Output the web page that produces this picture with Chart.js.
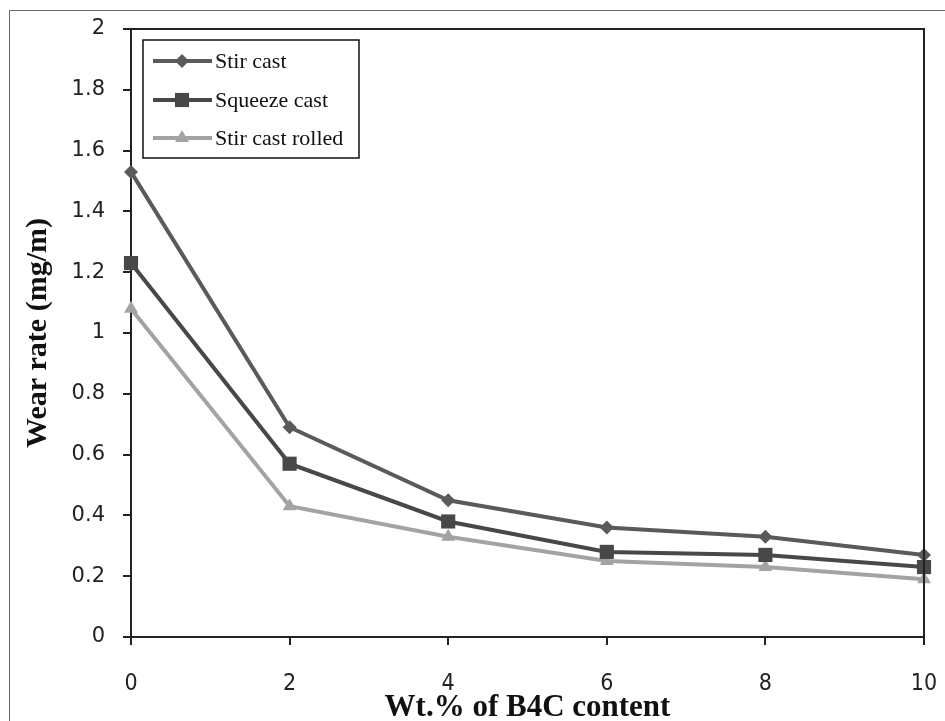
<!DOCTYPE html>
<html>
<head>
<meta charset="utf-8">
<script src="https://cdn.jsdelivr.net/npm/chart.js@4/dist/chart.umd.min.js"></script>
<style>
  html, body { margin: 0; padding: 0; background: #fff; }
  #wrap { width: 945px; height: 721px; position: relative; }
</style>
</head>
<body>
<div id="wrap"><canvas id="wearChart" width="945" height="721"></canvas></div>
<script>
// ==== data ====
const wtPercent   = [0, 2, 4, 6, 8, 10];
const stirCast    = [1.53, 0.69, 0.45, 0.36, 0.33, 0.27];
const squeezeCast = [1.23, 0.57, 0.38, 0.28, 0.27, 0.23];
const stirRolled  = [1.08, 0.43, 0.33, 0.25, 0.23, 0.19];
const seriesNames = ["Stir cast", "Squeeze cast", "Stir cast rolled"];

const toPoints = (arr) => arr.map((v, i) => ({ x: wtPercent[i], y: v }));

const tickFont = { family: "'DejaVu Sans', sans-serif", size: 21 };
const titleFont = { family: "'Liberation Serif', 'Times New Roman', serif", size: 30, weight: "bold", lineHeight: 1 };

// outer frame + top/right edges of the plot box
const framePlugin = {
  id: "frame",
  beforeDraw(chart) {
    const c = chart.ctx;
    c.save();
    c.strokeStyle = "#666";
    c.lineWidth = 1;
    c.beginPath();
    c.moveTo(9.5, 721);
    c.lineTo(9.5, 10.5);
    c.lineTo(945, 10.5);
    c.stroke();
    c.restore();
  },
  afterDatasetsDraw(chart) {
    const { left, right, top, bottom } = chart.chartArea;
    const c = chart.ctx;
    c.save();
    c.strokeStyle = "#222";
    c.lineWidth = 2;
    c.beginPath();
    c.moveTo(left, top);
    c.lineTo(right, top);
    c.lineTo(right, bottom + 8);
    c.stroke();
    c.restore();
  }
};

// legend box inside the plot, top-left
const boxLegend = {
  id: "boxLegend",
  afterDraw(chart) {
    const c = chart.ctx;
    const x0 = 143, y0 = 40, w = 216, h = 118;
    c.save();
    c.fillStyle = "#fff";
    c.fillRect(x0, y0, w, h);
    c.strokeStyle = "#111";
    c.lineWidth = 1.5;
    c.strokeRect(x0, y0, w, h);
    c.font = "22px 'Liberation Serif', serif";
    c.textBaseline = "middle";
    const rows = [61, 100, 138];
    chart.data.datasets.forEach((ds, i) => {
      const y = rows[i];
      c.strokeStyle = ds.borderColor;
      c.lineWidth = ds.borderWidth;
      c.beginPath();
      c.moveTo(153, y);
      c.lineTo(212, y);
      c.stroke();
      c.fillStyle = ds.pointBackgroundColor;
      Chart.helpers.drawPoint(c, {
        pointStyle: ds.pointStyle, rotation: 0,
        radius: ds.pointRadius, borderWidth: 0
      }, 182, y);
      c.fillStyle = "#111";
      c.fillText(ds.label, 215, y + 1);
    });
    c.restore();
  }
};

const mkSet = (label, data, color, style, r) => ({
  label,
  data: toPoints(data),
  borderColor: color,
  backgroundColor: color,
  pointBackgroundColor: color,
  pointBorderColor: color,
  pointBorderWidth: 0,
  borderWidth: 4,
  pointStyle: style,
  pointRadius: r,
  pointHoverRadius: r,
  tension: 0
});

new Chart(document.getElementById("wearChart"), {
  type: "line",
  data: {
    datasets: [
      mkSet(seriesNames[0], stirCast, "#5a5a5a", "rectRot", 7),
      mkSet(seriesNames[1], squeezeCast, "#484848", "rect", 10),
      mkSet(seriesNames[2], stirRolled, "#a3a3a3", "triangle", 8)
    ]
  },
  options: {
    responsive: false,
    animation: false,
    clip: false,
    layout: { padding: { left: 0, top: 29, right: 21, bottom: 0 } },
    plugins: { legend: { display: false }, tooltip: { enabled: false } },
    scales: {
      x: {
        type: "linear",
        min: 0, max: 10,
        afterFit: (s) => { s.height = 84; s.paddingLeft = 0; s.paddingRight = 0; },
        afterBuildTicks: (s) => { s.ticks = wtPercent.map(v => ({ value: v })); },
        ticks: { color: "#222", font: { family: "'DejaVu Sans Condensed', 'DejaVu Sans', sans-serif", size: 23 }, padding: 25, maxRotation: 0 },
        grid: { drawOnChartArea: false, drawTicks: true, tickLength: 8, color: "#222", lineWidth: 2 },
        border: { color: "#222", width: 2 },
        title: { display: true, text: "Wt.% of B4C content", color: "#111",
                 font: { ...titleFont, size: 31, lineHeight: 0.85 }, padding: { top: 0, bottom: 0 } }
      },
      y: {
        min: 0, max: 2,
        afterFit: (s) => { s.width = 131; s.paddingTop = 0; s.paddingBottom = 0; },
        ticks: { stepSize: 0.2, color: "#222", font: tickFont, padding: 18,
                 callback: (v) => String(Math.round(v * 10) / 10) },
        grid: { drawOnChartArea: false, drawTicks: true, tickLength: 8, color: "#222", lineWidth: 2 },
        border: { color: "#222", width: 2 },
        title: { display: true, text: "Wear rate (mg/m)", color: "#111", font: titleFont, padding: { top: 23, bottom: 0 } }
      }
    }
  },
  plugins: [framePlugin, boxLegend]
});
</script>
</body>
</html>
